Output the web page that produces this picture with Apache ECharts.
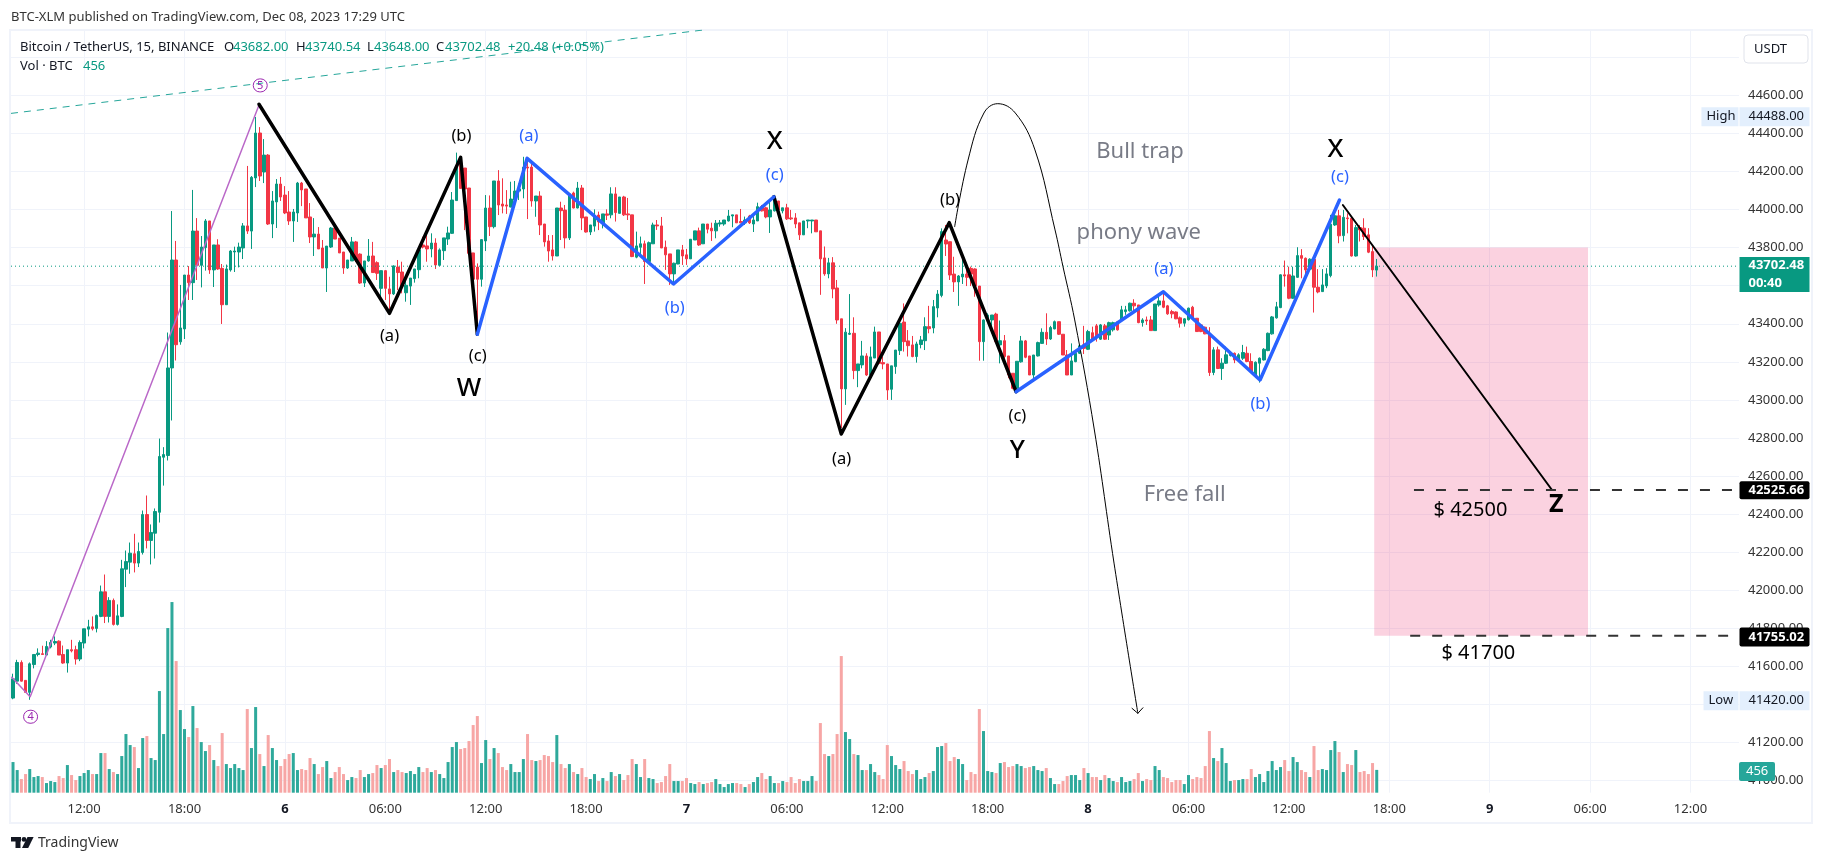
<!DOCTYPE html>
<html><head><meta charset="utf-8">
<style>html,body{margin:0;padding:0;background:#fff}#c{width:1824px;height:863px}</style>
<script src="https://cdn.jsdelivr.net/npm/echarts@6/dist/echarts.min.js"></script>
</head><body><div id="c"></div>
<script>
// rows are [open, close, low, high]
const ohlcDec5 = [
[41434,41535,41428,41562],[41523,41621,41509,41635],[41621,41523,41521,41632],[41527,41464,41464,41527],[41464,41614,41425,41621],
[41610,41663,41590,41663],[41663,41670,41653,41695],[41667,41663,41663,41709],[41660,41705,41660,41733],[41702,41726,41695,41740],
[41723,41731,41712,41758],[41733,41660,41660,41737],[41663,41618,41614,41710],[41618,41688,41568,41688],[41688,41682,41674,41740],
[41688,41639,41610,41709],[41639,41726,41628,41737],[41723,41798,41695,41798],[41796,41808,41758,41845],[41808,41798,41789,41863],
[41800,41868,41779,41873],[41863,41992,41859,42025],[41992,41863,41828,42083],[41863,41947,41831,41964],[41947,41821,41815,41957],
[41821,41866,41815,41926],[41863,42113,41859,42160],[42111,42151,42017,42209],[42148,42195,42087,42251],[42192,42143,42094,42297],
[42143,42204,42122,42251],[42199,42398,42188,42419],[42398,42262,42220,42498],[42262,42304,42136,42346],[42300,42414,42167,42430],
[42410,42703,42356,42797],[42699,42713,42550,42752],[42708,43168,42682,43354],[43168,43735,42892,43992],[43735,43290,43207,43835],
[43305,43378,43290,43604],[43373,43656,43320,43656],[43656,43616,43525,43703],[43616,43887,43525,44103],[43887,43707,43630,43955],
[43707,43803,43591,43861],[43800,43940,43679,43950],[43940,43683,43662,43940],[43683,43814,43593,43814],[43814,43688,43683,43844],
[43691,43500,43399,43714],[43500,43688,43500,43711],[43683,43782,43674,43787],[43777,43782,43672,43805],[43777,43803,43696,43826],
[43798,43914,43740,43929],[43914,43887,43872,44229],[43887,44169,43793,44176],[44166,44402,44118,44486],[44402,44176,44150,44433],
[44197,44286,44139,44370],[44286,43924,43919,44291],[43924,44045,43850,44097],[44040,44134,43903,44160],[44134,44066,44045,44171]];
const ohlcDec6 = [
[44076,43982,43976,44123],[43987,43940,43919,44097],[43940,43987,43830,44003],[43982,44139,43935,44145],[44139,44103,44018,44145],
[44108,43956,43956,44108],[43961,43856,43824,44034],[43856,43871,43756,43955],[43871,43793,43793,43908],[43798,43693,43693,43840],
[43693,43808,43567,43808],[43803,43903,43798,43908],[43903,43845,43845,43903],[43850,43772,43772,43850],[43777,43693,43662,43777],
[43693,43735,43688,43735],[43730,43830,43730,43856],[43830,43735,43725,43835],[43766,43614,43609,43770],[43614,43730,43593,43730],
[43730,43756,43726,43845],[43756,43669,43669,43830],[43721,43665,43630,43728],[43586,43679,43542,43679],[43679,43586,43525,43682],
[43583,43557,43472,43647],[43557,43704,43551,43707],[43698,43669,43577,43735],[43672,43598,43560,43726],[43563,43602,43516,43647],
[43598,43640,43499,43640],[43637,43688,43616,43688],[43684,43788,43639,43788],[43814,43803,43796,43857],[43809,43793,43726,43875],
[43793,43824,43749,43875],[43824,43709,43688,43849],[43707,43788,43704,43796],[43784,43851,43735,43851],[43845,43877,43814,43910],
[43875,44050,43872,44092],[44047,44225,44047,44299],[44274,44111,44111,44281],[44218,44108,43892,44218],[44113,43770,43770,44113],
[43772,43634,43634,43772],[43698,43634,43350,43717],[43634,43842,43595,43844],[43835,44008,43782,44076],[44008,43910,43861,44074],
[43910,44150,43901,44150],[44150,44024,43971,44207],[44029,44018,43980,44164],[44024,44018,43977,44102],[44013,44055,44012,44146],
[44050,44097,44015,44150],[44097,44108,44050,44137],[44108,44223,44059,44277],[44223,44218,43950,44277],[44223,44045,44015,44242],
[44045,44071,43962,44071],[44071,43919,43866,44096],[43924,43830,43805,43924],[43835,43782,43726,43866],[43788,43756,43732,43866],
[43756,44008,43756,44008],[44008,43994,43840,44041],[43997,43851,43796,44024],[43851,44082,43840,44082],[44087,44008,44006,44094],
[44008,44113,44006,44145],[44113,43956,43892,44129],[43961,43882,43879,43961],[43882,43919,43866,43919],[43913,43966,43884,44001],
[43971,43935,43892,43989],[43929,43977,43901,43977],[43977,43970,43945,44001],[43972,44082,43954,44117],[44082,43984,43937,44117],
[43980,44066,43980,44066],[44066,43972,43966,44072],[43977,43972,43945,44061],[43972,43753,43750,43972],[43750,43809,43744,43884],
[43802,43820,43753,43858],[43820,43727,43609,43837],[43727,43826,43718,43832],[43820,43919,43820,43931],[43919,43914,43893,43945],
[43914,43798,43798,43961],[43802,43762,43683,43837],[43767,43662,43604,43767],[43662,43718,43613,43721],[43714,43788,43713,43788],
[43788,43756,43709,43814]];
const ohlcDec7 = [
[43762,43741,43709,43793],[43741,43844,43741,43844],[43840,43888,43840,43888],[43888,43814,43809,43905],[43820,43924,43820,43924],
[43924,43897,43875,43924],[43902,43888,43835,43931],[43888,43928,43849,43945],[43924,43930,43910,43945],[43924,43945,43915,43945],
[43940,43966,43937,43998],[43966,43972,43907,43972],[43972,43930,43930,43972],[43937,43930,43928,44003],[43930,43945,43919,43963],
[43966,43930,43924,43972],[43924,43945,43882,43972],[43940,44015,43940,44036],[44015,43993,43990,44024],[44009,43961,43954,44015],
[43961,43998,43877,44050],[43993,44050,43990,44077],[44045,43998,43995,44045],[43993,44009,43980,44009],[44009,43951,43945,44030],
[43956,43951,43945,43998],[43956,43924,43902,43981],[43930,43867,43840,43930],[43867,43940,43867,43940],[43940,43945,43902,43945],
[43940,43945,43875,43945],[43945,43883,43883,43945],[43888,43741,43552,43888],[43746,43662,43652,43806],[43662,43720,43639,43746],
[43720,43583,43534,43750],[43588,43420,43400,43630],[43426,43058,42853,43426],[43058,43356,42974,43377],[43345,43350,43341,43556],
[43350,43154,43109,43434],[43154,43189,43067,43189],[43184,43231,43166,43310],[43231,43131,43126,43245],[43131,43226,43126,43280],
[43220,43357,43220,43385],[43357,43192,43186,43357],[43196,43189,43161,43227],[43189,43052,43000,43189],[43056,43179,43000,43179],
[43175,43262,43137,43262],[43259,43402,43236,43413],[43409,43306,43254,43507],[43310,43285,43228,43367],[43289,43228,43224,43336],
[43228,43294,43196,43306],[43291,43315,43271,43336],[43311,43385,43262,43434],[43385,43374,43350,43494],[43378,43490,43350,43525],
[43483,43556,43434,43577],[43549,43884,43539,43901],[43840,43819,43756,43919],[43831,43656,43630,43831],[43661,43620,43567,43752],
[43620,43651,43494,43656],[43646,43661,43609,43735],[43661,43644,43598,43700],[43691,43661,43598,43700],[43688,43598,43542,43691],
[43598,43306,43206,43598],[43306,43420,43206,43423],[43416,43446,43411,43455],[43420,43446,43376,43446],[43451,43306,43301,43458],
[43289,43311,43192,43417],[43311,43228,43219,43341],[43231,43131,43114,43231],[43140,43061,43056,43140],[43061,43203,43056,43203],
[43200,43310,43196,43336],[43310,43224,43219,43315],[43231,43131,43131,43231],[43131,43236,43114,43236],[43231,43301,43228,43306],
[43297,43355,43294,43376],[43355,43320,43289,43455],[43320,43380,43315,43389],[43373,43411,43371,43417],[43411,43345,43341,43411],
[43345,43236,43236,43345],[43236,43131,43131,43262],[43131,43205,43131,43297],[43201,43245,43198,43245],[43245,43284,43241,43289],
[43289,43271,43241,43389]];
const ohlcDec8 = [
[43266,43359,43262,43368],[43353,43315,43311,43385],[43389,43336,43306,43399],[43319,43394,43315,43399],[43389,43319,43315,43399],
[43341,43406,43315,43411],[43368,43406,43359,43411],[43410,43368,43364,43415],[43421,43473,43417,43494],[43464,43473,43447,43494],
[43468,43508,43464,43511],[43508,43494,43464,43529],[43499,43406,43403,43499],[43406,43420,43385,43429],[43420,43415,43394,43438],
[43420,43364,43363,43441],[43364,43504,43364,43504],[43499,43520,43490,43543],[43520,43487,43482,43560],[43494,43452,43447,43499],
[43464,43452,43429,43473],[43462,43426,43424,43465],[43431,43403,43380,43438],[43403,43426,43385,43429],[43421,43482,43417,43485],
[43487,43429,43426,43494],[43429,43359,43357,43429],[43394,43359,43356,43398],[43382,43347,43345,43385],[43347,43144,43126,43382],
[43144,43263,43130,43277],[43263,43165,43162,43280],[43165,43193,43105,43219],[43193,43237,43189,43280],[43233,43245,43228,43254],
[43245,43210,43193,43249],[43210,43237,43207,43245],[43219,43249,43210,43289],[43245,43202,43198,43280],[43202,43149,43144,43245],
[43126,43198,43123,43202],[43193,43219,43091,43223],[43210,43266,43207,43272],[43259,43350,43256,43354],[43347,43436,43343,43441],
[43431,43489,43427,43515],[43485,43657,43482,43660],[43657,43651,43595,43732],[43657,43534,43529,43700],[43534,43651,43531,43700],
[43644,43758,43641,43802],[43758,43744,43639,43792],[43744,43683,43657,43748],[43687,43739,43683,43744],[43739,43592,43459,43744],
[43592,43567,43560,43687],[43569,43604,43567,43687],[43599,43662,43587,43692],[43653,43923,43644,43972],[43919,43967,43914,43998],
[43967,43862,43823,43998],[43863,43959,43832,43998],[43956,43952,43875,43980],[43954,43756,43753,43954],[43756,43905,43753,43919],
[43905,43893,43832,43919],[43902,43858,43840,43954],[43867,43776,43771,43902],[43779,43683,43645,43814],[43682,43702.48,43648,43740.54]];
const volumes = [
613,453,273,373,473,313,333,313,193,233,213,333,293,553,353,253,333,393,453,373,373,793,793,473,413,373,733,1173,953,913,493,1093,1133,693,653,2033,1173,3293,3813,2633,
1653,1273,1113,1733,1293,1013,833,953,653,533,1193,573,493,573,493,453,1673,893,1713,773,533,1153,893,653,533,673,773,793,453,473,453,693,573,373,513,633,293,413,513,373,
253,313,293,453,313,373,393,553,493,553,673,413,453,413,393,433,373,513,413,493,413,453,373,293,613,913,1013,873,893,1033,1353,1533,593,1053,673,893,793,513,453,573,413,413,
673,1173,653,633,653,753,733,613,1153,573,493,573,413,373,493,313,273,373,233,293,233,413,333,373,
253,353,673,573,313,673,293,273,193,213,333,573,233,233,233,293,193,173,213,173,193,213,273,173,113,173,193,193,173,113,173,213,313,393,273,333,193,193,233,213,313,193,273,233,233,333,233,
1393,773,733,773,1173,2733,1213,1073,773,753,453,453,573,413,353,273,953,733,553,473,633,433,373,453,273,313,393,433,913,933,993,633,713,673,573,253,413,373,1673,1233,433,413,393,593,613,513,533,573,533,493,513,533,453,433,493,293,173,173,233,333,353,353,253,493,393,313,313,253,353,293,233,213,313,213,233,273,393,233,273,253,533,453,313,293,213,253,253,173,353,273,313,293,533,1233,693,633,893,593,233,253,253,
273,273,473,313,373,213,433,633,453,513,653,433,713,613,453,413,313,933,453,473,453,853,1033,813,413,573,553,853,413,433,373,593,456];
const timeTickIndex = [17,41,65,89,113,137,161,185,209,233,257,281,305,329,353,377,401];
const timeTickLabels = ["12:00","18:00","6","06:00","12:00","18:00","7","06:00","12:00","18:00","8","06:00","12:00","18:00","9","06:00","12:00"];
const priceTicks = [41000,41200,41400,41600,41800,42000,42200,42400,42600,42800,43000,43200,43400,43600,43800,44000,44200,44400,44600,44800];
const priceLabelTicks = priceTicks.slice(0,-1);
const waveBlack = [[58.8,44553],[90,43455],[107,44274],[111,43345]];
const waveBlack2 = [[181.9,44067],[198,42821],[223.8,43931],[239.8,43043]];
const waveBlue = [[111,43345],[122.9,44269],[157.9,43609],[181.9,44067]];
const waveBlue2 = [[239.8,43043],[275,43568],[298.1,43105],[317.1,44050]];
const forecast = [[317.9,44024],[367.9,42527]];
const impulse = [[-0.3,41543],[4.1,41441],[58.9,44554]];
const channel = [[-0.48,44505],[165,44943]];
const arc = [[225.1,43910],[228.3,44260],[232.1,44507],[235.4,44556],[239.6,44507],[244.3,44313],[249.1,43893],[251,43700],[253.8,43420],[258.5,42842],[263.2,42143],[268.9,41354]];
const arcHead = [[267.5,41380],[268.9,41354],[270.1,41383]];
const targetBox = [[325.4,43801],[376.5,41762]];
const level1 = [[334.9,42527],[411.3,42527]];
const level2 = [[334,41762],[410,41762]];
const lastPrice = 43702.48;
const blackLabels = [[107.2,44386,"(b)"],[90,43332,"(a)"],[111.1,43227,"(c)"],[224,44046,"(b)"],[240.1,42916,"(c)"],[198.1,42688,"(a)"]];
const blueLabels = [[123.3,44386,"(a)"],[182.1,44181,"(c)"],[158.2,43481,"(b)"],[275.1,43686,"(a)"],[298.2,42977,"(b)"],[317.2,44167,"(c)"]];
const bigLabels = [[109,43062,"W"],[182.1,44356,"X"],[240.1,42733,"Y"],[316.1,44313,"X"]];
const zLabel = [[368.9,42448,"Z"]];
const noteLabels = [[269.4,44301,"Bull trap"],[269.1,43878,"phony wave"],[280.1,42501,"Free fall"]];
const priceNotes = [[348.4,42422,"$ 42500"],[350.3,41669,"$ 41700"]];
const circled = [[59.1,44652,"5"],[4.2,41336,"4"]];

const XMIN=-0.48, XMAX=412.6;
const UP='#089981', DOWN='#f23645', FONT='"Noto Sans",Roboto,sans-serif';
const rows=[].concat(ohlcDec5,ohlcDec6,ohlcDec7,ohlcDec8);
const candleData=rows.map((r,i)=>[i,r[0],r[1],r[2],r[3]]);
const volData=volumes.slice(0,rows.length).map((v,i)=>({value:[i,v],itemStyle:{color:rows[i][1]>=rows[i][0]?'#2ea99b':'#f7a6a5'}}));
const HIDDEN={color:'rgba(0,0,0,0)',opacity:1};

function lineS(data,color,width,z,extra){return Object.assign({type:'line',data,showSymbol:false,symbol:'none',silent:true,z,
  lineStyle:{color,width,cap:'round',join:'round'},xAxisIndex:0,yAxisIndex:0,animation:false},extra||{});}
function textS(items,color,size,weight){return {type:'scatter',data:items,symbolSize:1,itemStyle:HIDDEN,z:8,silent:true,clip:false,
  label:{show:true,position:'inside',color,fontSize:size,fontWeight:weight||'normal',fontFamily:FONT,formatter:p=>p.data[2]}};}
function tag(price,text,bg,fg,opt){opt=opt||{};const h=opt.h||18,w=opt.w||70;
  return {type:'scatter',data:[[XMAX-(opt.back||0),price,text]],symbolSize:1,itemStyle:HIDDEN,z:12,silent:true,clip:false,
  label:{show:true,position:'right',distance:0,width:w-(opt.pad||9),height:h,lineHeight:opt.lh||h,padding:[0,0,0,opt.pad||9],
   backgroundColor:bg,color:fg,fontSize:13,fontFamily:FONT,fontWeight:opt.bold?'bold':'normal',borderRadius:opt.r||0,align:'left',formatter:text}};}

const series=[
 {type:'bar',data:volData,xAxisIndex:0,yAxisIndex:1,barWidth:3,z:1,silent:true},
 {type:'candlestick',data:candleData,xAxisIndex:0,yAxisIndex:0,barWidth:3,z:2,silent:true,
  itemStyle:{color:UP,color0:DOWN,borderColor:UP,borderColor0:DOWN,borderWidth:1}},
 lineS([[XMIN,lastPrice],[XMAX,lastPrice]],UP,1,3,{lineStyle:{color:UP,width:1,type:[1,3]}}),
 lineS(targetBox,'rgba(0,0,0,0)',0,1,{markArea:{silent:true,itemStyle:{color:'rgba(233,30,99,0.2)'},data:[[{coord:targetBox[0]},{coord:targetBox[1]}]]}}),
 lineS(channel,'#26a69a',1,3,{lineStyle:{color:'#26a69a',width:1,type:[7,6]}}),
 lineS(impulse,'#ba68c8',1.5,3),
 lineS(arc,'#000',1,5,{smooth:0.4}),
 lineS(arcHead,'#000',1,5),
 lineS(waveBlack,'#000',3.5,6),
 lineS(waveBlack2,'#000',3.5,6),
 lineS(waveBlue,'#2962ff',3.5,7),
 lineS(waveBlue2,'#2962ff',3.5,7),
 lineS(forecast,'#000',2,6),
 lineS(level1,'#333',2,6,{lineStyle:{color:'#333',width:2,type:[10,12]}}),
 lineS(level2,'#333',2,6,{lineStyle:{color:'#333',width:2,type:[10,12]}}),
 textS(blackLabels,'#000',16.5),
 textS(blueLabels,'#2962ff',16.5),
 textS(bigLabels,'#000',26,500),
 textS(zLabel,'#000',25,'bold'),
 textS(noteLabels,'#787b86',22),
 textS(priceNotes,'#000',20),
 {type:'scatter',data:circled,symbolSize:1,itemStyle:HIDDEN,z:8,silent:true,clip:false,
  label:{show:true,position:'inside',color:'#9c27b0',fontSize:11,fontFamily:FONT,width:12,height:12,lineHeight:12,align:'center',
   borderColor:'#9c27b0',borderWidth:1,borderRadius:7,padding:[1,1,0,1],formatter:p=>p.data[2]}},
 tag(44488,'44488.00','#e3effd','#131722',{h:19}),
 tag(44488,'High','#e3effd','#131722',{back:9.1,w:37,h:19,pad:5}),
 tag(41420,'41420.00','#e3effd','#131722',{h:19}),
 tag(41420,'Low','#e3effd','#131722',{back:8.6,w:35,h:19,pad:5}),
 tag(42525.66,'42525.66','#000','#fff',{h:18,r:2,bold:true}),
 tag(41755.02,'41755.02','#000','#fff',{h:19,r:2,bold:true}),
 tag(43659,'43702.48\n00:40',UP,'#fff',{h:35,lh:17.5,bold:true}),
];
const chart=echarts.init(document.getElementById('c'),null,{renderer:'canvas'});
const txt=(x,y,text,fill,size,w)=>({type:'text',x,y,z:100,silent:true,style:{text,fill,fontSize:size,fontFamily:FONT,fontWeight:w||'normal',textVerticalAlign:'middle'}});
chart.setOption({
 animation:false,backgroundColor:'#fff',
 grid:{left:11,top:30,width:1728,height:762.7,containLabel:false},
 xAxis:{type:'value',min:XMIN,max:XMAX,axisLine:{show:false},
  axisTick:{show:false,customValues:timeTickIndex},
  splitLine:{show:true,lineStyle:{color:'#f0f3fa',width:1}},
  axisLabel:{customValues:timeTickIndex,margin:10,color:'#333',fontSize:13,fontFamily:FONT,
   formatter:v=>{const k=timeTickIndex.indexOf(v),s=timeTickLabels[k];return /:/.test(s)?s:'{d|'+s+'}';},
   rich:{d:{fontWeight:'bold',fontSize:13,color:'#131722',fontFamily:FONT}}}},
 yAxis:[{type:'value',position:'right',min:40937,max:44943,axisLine:{show:false},
   axisTick:{show:false,customValues:priceTicks},
   splitLine:{show:true,lineStyle:{color:'#f0f3fa',width:1}},
   axisLabel:{customValues:priceLabelTicks,margin:9,color:'#333',fontSize:13,fontFamily:FONT,formatter:v=>v.toFixed(2)}},
  {type:'value',min:0,max:15254,show:false,splitLine:{show:false}}],
 series,
 graphic:[
  {type:'rect',z:-1,silent:true,shape:{x:10,y:30,width:1802,height:793},style:{fill:'none',stroke:'#f0f3fa',lineWidth:2}},
  {type:'rect',z:100,silent:true,shape:{x:1739,y:762,width:36,height:19,r:2},style:{fill:'#26a69a'}},
  txt(1746,771.5,'456','#fff',13),
  {type:'rect',z:100,silent:true,shape:{x:1744,y:35,width:64,height:28,r:4},style:{fill:'#fff',stroke:'#e0e3eb',lineWidth:1}},
  txt(1754,49,'USDT','#131722',13),
  txt(11,17,'BTC-XLM published on TradingView.com, Dec 08, 2023 17:29 UTC','#333',13),
  txt(20,47,'Bitcoin / TetherUS, 15, BINANCE','#131722',13),
  txt(224,47,'O','#131722',13),txt(233,47,'43682.00',UP,13),
  txt(296,47,'H','#131722',13),txt(305,47,'43740.54',UP,13),
  txt(367,47,'L','#131722',13),txt(374,47,'43648.00',UP,13),
  txt(436,47,'C','#131722',13),txt(445,47,'43702.48',UP,13),
  txt(508,47,'+20.48 (+0.05%)',UP,13),
  txt(20,66,'Vol · BTC','#131722',13),txt(83,66,'456',UP,13),
  {type:'rect',z:100,silent:true,shape:{x:11,y:837,width:10,height:4.5},style:{fill:'#131722'}},
  {type:'rect',z:100,silent:true,shape:{x:15.5,y:837,width:5,height:11},style:{fill:'#131722'}},
  {type:'circle',z:100,silent:true,shape:{cx:24,cy:839.4,r:2.4},style:{fill:'#131722'}},
  {type:'polygon',z:100,silent:true,shape:{points:[[27.5,837],[33.6,837],[28.2,848],[22,848]]},style:{fill:'#131722'}},
  txt(38,843,'TradingView','#333',14)
 ]
});
</script></body></html>
